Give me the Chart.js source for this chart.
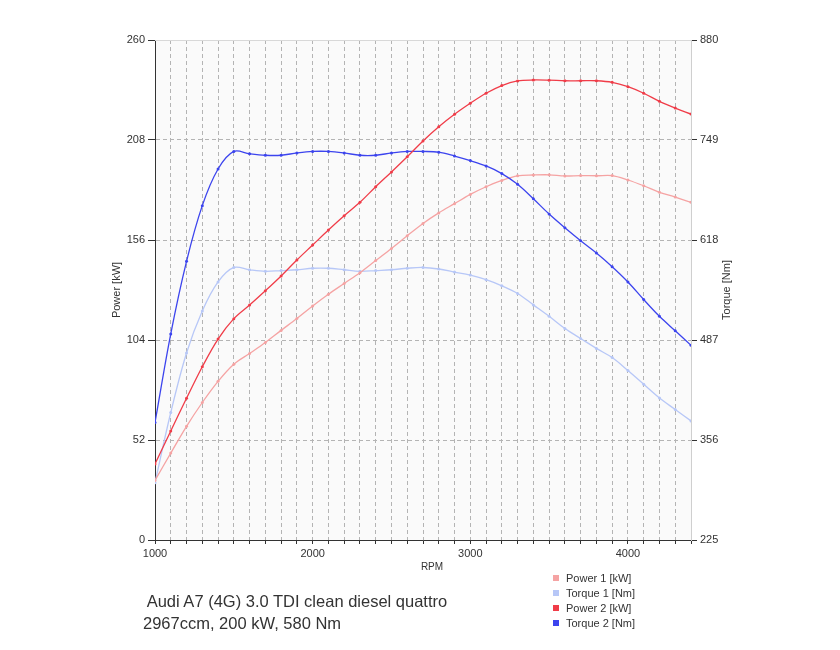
<!DOCTYPE html>
<html>
<head>
<meta charset="utf-8">
<title>Audi A7 3.0 TDI - power / torque</title>
<script src="https://cdn.jsdelivr.net/npm/chart.js@4.4.1/dist/chart.umd.min.js"></script>
<style>
  html, body { margin: 0; padding: 0; background: #fff; }
  #wrap { position: relative; width: 840px; height: 650px; font-family: "Liberation Sans", Arial, sans-serif; color: #333; }
  #c { position: absolute; left: 0; top: 0; }
  #caption { position: absolute; left: 143px; top: 590px; font-size: 16.5px; line-height: 22px; white-space: pre; }
  #legend { position: absolute; left: 553px; top: 571px; font-size: 11px; line-height: 15px; white-space: nowrap; }
  #legend .sw { display: inline-block; width: 6px; height: 6px; margin-right: 7px; vertical-align: 1px; }
</style>
</head>
<body>
<div id="wrap">
  <canvas id="c" width="840" height="650"></canvas>
  <div id="caption"> Audi A7 (4G) 3.0 TDI clean diesel quattro
2967ccm, 200 kW, 580 Nm</div>
  <div id="legend"></div>
</div>
<script>
  // --- data (every 100 rpm) ---
  var RPM = [1000, 1100, 1200, 1300, 1400, 1500, 1600, 1700, 1800, 1900,
             2000, 2100, 2200, 2300, 2400, 2500, 2600, 2700, 2800, 2900,
             3000, 3100, 3200, 3300, 3400, 3500, 3600, 3700, 3800, 3900,
             4000, 4100, 4200, 4300, 4400];

  var POWER_1 = [31, 45.2, 59.1, 71.5, 82.5, 91.4, 97.0, 102.7, 109.0, 115.2,
                 121.7, 127.8, 133.4, 139.0, 145.3, 151.6, 158.2, 164.6, 170.1, 174.9,
                 179.7, 183.7, 187.0, 189.4, 189.8, 189.9, 189.3, 189.5, 189.4, 189.5,
                 187.2, 184.2, 180.8, 178.3, 175.6];
  var TORQUE_1 = [300, 392, 470, 525, 563, 582, 579, 577, 578, 579,
                  581, 581, 579, 577, 578, 579, 581, 582, 580, 576,
                  572, 566, 558, 548, 533, 518, 502, 489, 476, 464,
                  447, 429, 411, 396, 381];
  var POWER_2 = [39.5, 56.7, 73.7, 90.1, 104.5, 115.1, 122.2, 129.6, 137.3, 145.6,
                 153.4, 161.2, 168.6, 175.6, 183.7, 191.4, 199.3, 207.5, 214.9, 221.4,
                 227.1, 232.3, 236.3, 238.7, 239.2, 239.1, 238.8, 238.8, 238.8, 238.0,
                 235.7, 232.3, 228.1, 224.6, 221.5];
  var TORQUE_2 = [379, 495, 590, 663, 711, 734, 731, 729, 729, 732,
                  734, 734, 732, 729, 729, 732, 734, 734, 733, 728,
                  722, 715, 705, 691, 672, 652, 634, 617, 601, 583,
                  563, 540, 518, 499, 480];

  var SERIES = ['Power 1 [kW]', 'Torque 1 [Nm]', 'Power 2 [kW]', 'Torque 2 [Nm]'];
  var COLORS = ['#f5a3a3', '#b7c7f7', '#f03c48', '#3c44ee'];

  var FONT = '"Liberation Sans", Arial, sans-serif';
  var GRID = '#b4b4b4';

  function pts(arr) { return arr.map(function (v, i) { return { x: RPM[i], y: v }; }); }

  function line(idx, data, axis, order) {
    return {
      label: SERIES[idx], data: pts(data), yAxisID: axis, order: order,
      borderColor: COLORS[idx], backgroundColor: COLORS[idx],
      borderWidth: 1.3, pointRadius: 1.5, pointBorderWidth: 0, pointHoverRadius: 2,
      tension: 0.35, fill: false
    };
  }

  // plot background, top frame line and the axis titles
  var frame = {
    id: 'frame',
    beforeDraw: function (chart) {
      var a = chart.chartArea, ctx = chart.ctx;
      ctx.save();
      ctx.fillStyle = '#fafafa';
      ctx.fillRect(a.left, a.top, a.right - a.left, a.bottom - a.top);
      ctx.restore();
    },
    afterDraw: function (chart) {
      var a = chart.chartArea, ctx = chart.ctx;
      ctx.save();
      ctx.strokeStyle = '#d8d8d8';
      ctx.lineWidth = 1;
      ctx.beginPath(); ctx.moveTo(a.left, a.top + 0.5); ctx.lineTo(a.right, a.top + 0.5); ctx.stroke();

      ctx.fillStyle = '#333';
      ctx.textAlign = 'center';
      ctx.textBaseline = 'middle';
      ctx.font = '10px ' + FONT;
      ctx.fillText('RPM', (a.left + a.right) / 2 + 9, a.bottom + 27);

      ctx.font = '11px ' + FONT;
      var midY = (a.top + a.bottom) / 2;
      ctx.save();
      ctx.translate(a.left - 38, midY); ctx.rotate(-Math.PI / 2);
      ctx.fillText('Power [kW]', 0, 0);
      ctx.restore();
      ctx.save();
      ctx.translate(a.right + 36, midY); ctx.rotate(-Math.PI / 2);
      ctx.fillText('Torque [Nm]', 0, 0);
      ctx.restore();
      ctx.restore();
    }
  };

  Chart.defaults.font.family = FONT;
  Chart.defaults.color = '#333';

  new Chart(document.getElementById('c').getContext('2d'), {
    type: 'line',
    data: {
      datasets: [
        line(2, POWER_2, 'y', 0),
        line(3, TORQUE_2, 'y1', 0),
        line(0, POWER_1, 'y', 1),
        line(1, TORQUE_1, 'y1', 1)
      ]
    },
    plugins: [frame],
    options: {
      responsive: false,
      animation: false,
      layout: { padding: { left: 100, right: 100, top: 40, bottom: 80 } },
      plugins: { legend: { display: false }, tooltip: { enabled: false } },
      scales: {
        x: {
          type: 'linear', min: 1000, max: 4400,
          afterFit: function (s) { s.height = 30; },
          ticks: {
            stepSize: 100, autoSkip: false, maxRotation: 0, padding: 3,
            font: { size: 11 },
            callback: function (v) { return v % 1000 === 0 ? String(v) : ''; }
          },
          grid: { color: GRID, tickColor: '#333', tickLength: 4 },
          border: { color: '#333', dash: [4, 3] }
        },
        y: {
          position: 'left', min: 0, max: 260,
          afterFit: function (s) { s.width = 55; },
          ticks: { stepSize: 52, padding: 3, font: { size: 11 } },
          grid: { color: GRID, tickColor: '#333', tickLength: 7 },
          border: { color: '#333', dash: [4, 3] }
        },
        y1: {
          position: 'right', min: 225, max: 880,
          afterFit: function (s) { s.width = 49; },
          ticks: { stepSize: 131, padding: 3, font: { size: 11 } },
          grid: { drawOnChartArea: false, color: GRID, tickColor: '#333', tickLength: 6 },
          border: { color: '#cfcfcf' }
        }
      }
    }
  });

  // legend below the plot, right side
  var lg = document.getElementById('legend');
  lg.innerHTML = SERIES.map(function (s, i) {
    return '<div><span class="sw" style="background:' + COLORS[i] + '"></span>' + s + '</div>';
  }).join('');
</script>
</body>
</html>
